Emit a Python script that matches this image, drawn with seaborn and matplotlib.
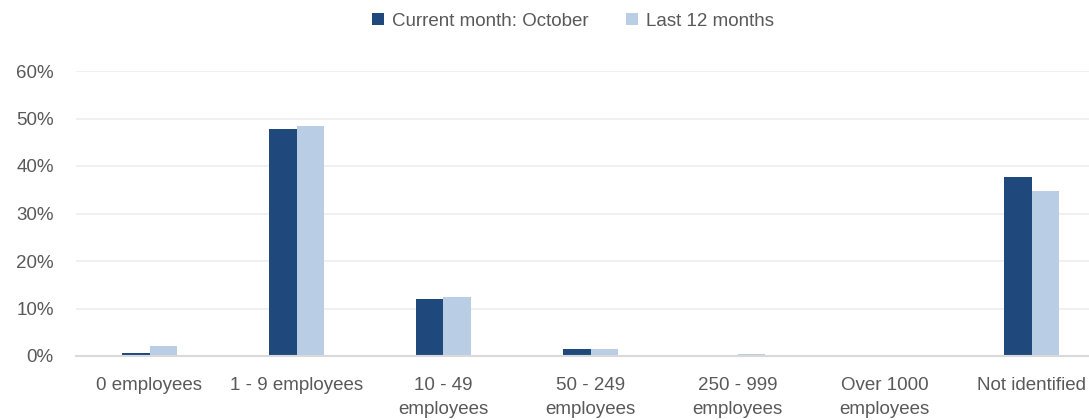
import matplotlib
matplotlib.use("Agg")
import matplotlib.pyplot as plt
import seaborn as sns
import pandas as pd
from matplotlib.ticker import PercentFormatter

# chart data
categories = ["0 employees", "1 - 9 employees", "10 - 49\nemployees", "50 - 249\nemployees",
              "250 - 999\nemployees", "Over 1000\nemployees", "Not identified"]
current_month = [0.7, 47.8, 12.0, 1.5, 0.0, 0.0, 37.7]
last_12_months = [2.1, 48.4, 12.4, 1.5, 0.4, 0.0, 34.7]
series_names = ["Current month: October", "Last 12 months"]
colors = ["#1F497D", "#B9CDE5"]

df = pd.DataFrame({
    "category": categories * 2,
    "value": current_month + last_12_months,
    "series": [series_names[0]] * len(categories) + [series_names[1]] * len(categories),
})

sns.set_theme(style="white")
plt.rcParams["font.family"] = ["Liberation Sans", "DejaVu Sans"]
text_color = "#595959"

fig = plt.figure(figsize=(10.89, 4.20), dpi=100)
# plot area runs past the right edge, as in the (cropped) reference
ax = fig.add_axes([76 / 1089, 1 - 356 / 420, 1029 / 1089, 285 / 420])

sns.barplot(data=df, x="category", y="value", hue="series", palette=colors,
            width=0.37, saturation=1, linewidth=0, ax=ax, legend=True)

ax.set_ylim(0, 60)
ax.set_yticks(range(0, 61, 10))
ax.yaxis.set_major_formatter(PercentFormatter(decimals=0))
ax.grid(axis="y", color="#EDEDED", linewidth=1.2)
ax.set_axisbelow(True)
for side in ["top", "right", "left"]:
    ax.spines[side].set_visible(False)
ax.spines["bottom"].set_color("#D9D9D9")
ax.spines["bottom"].set_linewidth(1.5)
ax.set_xlabel("")
ax.set_ylabel("")
ax.tick_params(axis="both", colors=text_color, labelsize=13.5, length=0)
ax.tick_params(axis="x", pad=15)
ax.tick_params(axis="y", pad=16)
for lab in ax.get_xticklabels():
    lab.set_linespacing(1.55)

handles, labels = ax.get_legend_handles_labels()
ax.legend_.remove()
fig.legend(handles, labels, loc="center", bbox_to_anchor=(573 / 1089, 1 - 21 / 420),
           ncol=2, frameon=False, fontsize=13.5, labelcolor=text_color,
           handlelength=0.65, handleheight=0.65, handletextpad=0.4, columnspacing=2.0)

fig.savefig("out.png", dpi=100)
